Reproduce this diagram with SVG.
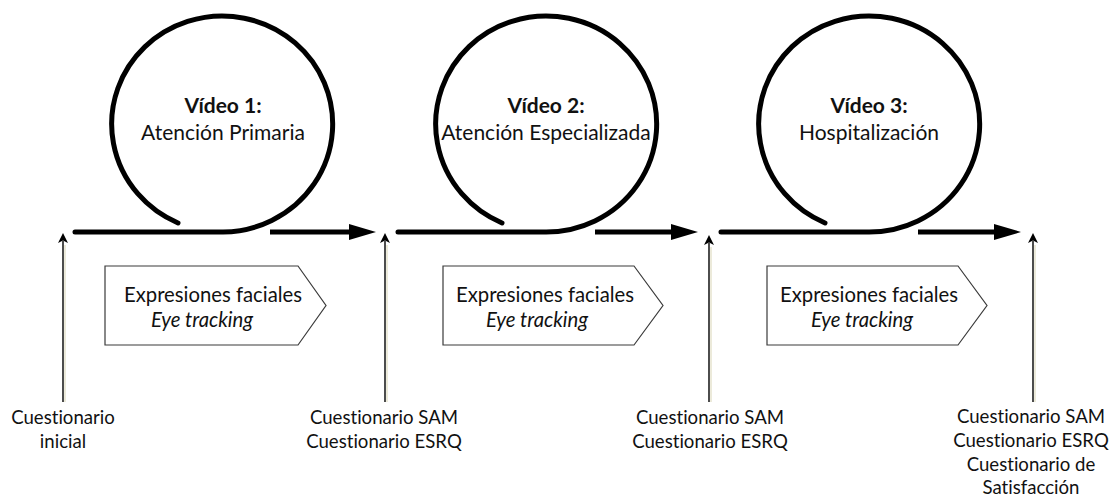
<svg xmlns="http://www.w3.org/2000/svg" width="1112" height="498" viewBox="0 0 1112 498">
  <style>
    .txt { font-family: Lato, "Open Sans", "Liberation Sans", sans-serif; fill: #111; text-anchor: middle; font-variant-ligatures: none; font-feature-settings: "liga" 0, "dlig" 0; }
    .title { font-size: 21px; font-weight: bold; }
    .sub { font-size: 21px; }
    .box-txt { font-size: 20.3px; }
    .ital { font-style: italic; }
    .lbl { font-size: 18.6px; }
    .loop { fill: none; stroke: #000; stroke-width: 5; stroke-linecap: round; }
    .flow { fill: none; stroke: #000; stroke-width: 5; marker-end: url(#thick-head); }
    .probe { fill: none; stroke: #000; stroke-width: 1.4; marker-end: url(#thin-head); }
    .halo { fill: none; stroke: #eceada; stroke-width: 2; }
    .tag { fill: #fff; stroke: #3a3a3a; stroke-width: 1.2; stroke-linejoin: miter; }
  </style>
  <defs>
    <marker id="thick-head" markerUnits="userSpaceOnUse" markerWidth="28" markerHeight="16" refX="3" refY="8" orient="auto">
      <path d="M0,0 L27,8 L0,16 Z" fill="#000"/>
    </marker>
    <marker id="thin-head" markerUnits="userSpaceOnUse" markerWidth="11" markerHeight="10" refX="2" refY="5" orient="auto">
      <path d="M0,0 L10,5 L0,10 L2.5,5 Z" fill="#000"/>
    </marker>
  </defs>

  <rect width="1112" height="498" fill="#fff"/>

  <!-- timeline: loops and forward arrows -->
  <g id="connectors">
    <path class="loop" d="M75,232 H223 A110.5,108 0 1 0 178,223"/>
    <path class="flow" d="M270,232 H352"/>
    <path class="loop" d="M398,232 H546 A110.5,108 0 1 0 502,223"/>
    <path class="flow" d="M595,232 H674"/>
    <path class="loop" d="M721,232 H869 A110.5,108 0 1 0 825,223"/>
    <path class="flow" d="M918,232 H997"/>

    <!-- questionnaire arrows -->
    <line class="halo" x1="65" y1="402" x2="65" y2="245"/>
    <line class="probe" x1="63" y1="402" x2="63" y2="241"/>
    <line class="halo" x1="387" y1="402" x2="387" y2="245"/>
    <line class="probe" x1="385" y1="402" x2="385" y2="241"/>
    <line class="halo" x1="711" y1="402" x2="711" y2="247"/>
    <line class="probe" x1="709" y1="402" x2="709" y2="243"/>
    <line class="halo" x1="1035" y1="402" x2="1035" y2="245"/>
    <line class="probe" x1="1033" y1="402" x2="1033" y2="241"/>
  </g>

  <!-- video stages -->
  <g id="video-1">
    <text class="txt title" x="223" y="113">Vídeo 1:</text>
    <text class="txt sub" x="223" y="140">Atención Primaria</text>
  </g>
  <g id="video-2">
    <text class="txt title" x="546" y="113">Vídeo 2:</text>
    <text class="txt sub" x="546" y="140">Atención Especializada</text>
  </g>
  <g id="video-3">
    <text class="txt title" x="869" y="113">Vídeo 3:</text>
    <text class="txt sub" x="869" y="140">Hospitalización</text>
  </g>

  <!-- measurement tags -->
  <g id="measures-1">
    <polygon class="tag" points="105,266 298,266 326,305.5 298,345 105,345"/>
    <text class="txt box-txt" x="213" y="302">Expresiones faciales</text>
    <text class="txt box-txt ital" x="202" y="327">Eye tracking</text>
  </g>
  <g id="measures-2">
    <polygon class="tag" points="443,266 634,266 663,305.5 634,345 443,345"/>
    <text class="txt box-txt" x="545" y="302">Expresiones faciales</text>
    <text class="txt box-txt ital" x="537" y="327">Eye tracking</text>
  </g>
  <g id="measures-3">
    <polygon class="tag" points="767,266 958,266 987,305.5 958,345 767,345"/>
    <text class="txt box-txt" x="869" y="302">Expresiones faciales</text>
    <text class="txt box-txt ital" x="862" y="327">Eye tracking</text>
  </g>

  <!-- questionnaires -->
  <g id="q-initial">
    <text class="txt lbl" x="63" y="424">Cuestionario</text>
    <text class="txt lbl" x="63" y="448">inicial</text>
  </g>
  <g id="q-after-1">
    <text class="txt lbl" x="384" y="424">Cuestionario SAM</text>
    <text class="txt lbl" x="384" y="448">Cuestionario ESRQ</text>
  </g>
  <g id="q-after-2">
    <text class="txt lbl" x="710" y="424">Cuestionario SAM</text>
    <text class="txt lbl" x="710" y="448">Cuestionario ESRQ</text>
  </g>
  <g id="q-after-3">
    <text class="txt lbl" x="1031" y="423">Cuestionario SAM</text>
    <text class="txt lbl" x="1031" y="447">Cuestionario ESRQ</text>
    <text class="txt lbl" x="1031" y="471">Cuestionario de</text>
    <text class="txt lbl" x="1031" y="494">Satisfacción</text>
  </g>
</svg>
